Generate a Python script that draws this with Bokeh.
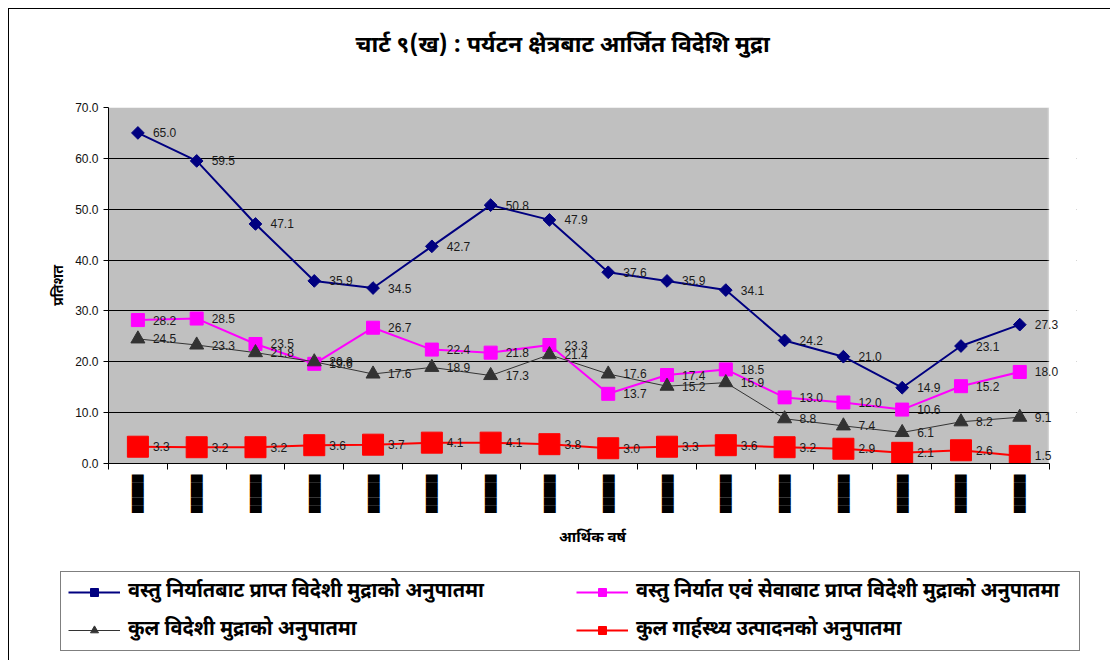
import math
from bokeh.plotting import figure
from bokeh.layouts import column, row
from bokeh.models import (ColumnDataSource, Range1d, FixedTicker, NumeralTickFormatter,
                          LabelSet, Legend, LegendItem, Title, BoxAnnotation)
from bokeh.core.properties import value
from bokeh.embed import file_html
from bokeh.resources import INLINE

# ---------------- data ----------------
years_idx = list(range(1, 17))
year_labels = ["█████"] * 16  # tick labels appear as solid black blocks in the reference
goods_export = [65.0, 59.5, 47.1, 35.9, 34.5, 42.7, 50.8, 47.9, 37.6, 35.9, 34.1, 24.2, 21.0, 14.9, 23.1, 27.3]
goods_services = [28.2, 28.5, 23.5, 19.6, 26.7, 22.4, 21.8, 23.3, 13.7, 17.4, 18.5, 13.0, 12.0, 10.6, 15.2, 18.0]
total_forex = [24.5, 23.3, 21.8, 20.0, 17.6, 18.9, 17.3, 21.4, 17.6, 15.2, 15.9, 8.8, 7.4, 6.1, 8.2, 9.1]
gdp_ratio = [3.3, 3.2, 3.2, 3.6, 3.7, 4.1, 4.1, 3.8, 3.0, 3.3, 3.6, 3.2, 2.9, 2.1, 2.6, 1.5]

series_names = [
    "वस्तु निर्यातबाट प्राप्त विदेशी मुद्राको अनुपातमा",
    "वस्तु निर्यात एवं सेवाबाट प्राप्त विदेशी मुद्राको अनुपातमा",
    "कुल विदेशी मुद्राको अनुपातमा",
    "कुल गार्हस्थ्य उत्पादनको अनुपातमा",
]
title_text = "चार्ट ९(ख) : पर्यटन क्षेत्रबाट आर्जित विदेशि मुद्रा"
y_title = "प्रतिशत"
x_title = "आर्थिक वर्ष"
y_ticks = [0, 10, 20, 30, 40, 50, 60, 70]

DEV = "Noto Sans Devanagari, Noto Sans, sans-serif"
NUM = "Liberation Sans"

# series styles
STY = [
    dict(color="#000080", lw=2, marker="square", angle=math.pi / 4, size=9),
    dict(color="#FF00FF", lw=2, marker="square", angle=0.0, size=13),
    dict(color="#333333", lw=1, marker="triangle", angle=0.0, size=14),
    dict(color="#FF0000", lw=2, marker="square", angle=0.0, size=21),
]

X0, X1 = 0.5, 16.5
X_VIEW_END = 16.965  # a little white room right of the plot area for the last data labels

p = figure(width=1101, height=551, output_backend="svg", toolbar_location=None,
           x_range=Range1d(X0, X_VIEW_END), y_range=Range1d(0, 70),
           min_border_left=99, min_border_top=98, min_border_right=34, min_border_bottom=97)
p.background_fill_color = "white"
p.border_fill_color = "white"
p.outline_line_color = None
# grey plot area (below the grid), white strip right of it (above the grid)
p.add_layout(BoxAnnotation(left=X0, right=X1, bottom=0, top=70, fill_color="#C0C0C0",
                           fill_alpha=1, line_color=None, level="image"))
p.add_layout(BoxAnnotation(left=X1, bottom=0, top=70, fill_color="white",
                           fill_alpha=1, line_color="white", line_width=3, level="underlay"))

# main title (outermost), spacer title stacked between it and the plot area
p.title = Title(text=title_text, align="left", text_font=DEV, text_font_size="23px",
                text_font_style="bold", text_color="black", standoff=0, offset=247)
p.add_layout(Title(text=" ", text_font_size="10px", standoff=34), "above")

# y axis
p.yaxis.ticker = FixedTicker(ticks=y_ticks)
p.yaxis.formatter = NumeralTickFormatter(format="0.0")
p.yaxis.major_label_text_font = NUM
p.yaxis.major_label_text_font_size = "12px"
p.yaxis.major_label_text_color = "#111111"
p.yaxis.major_tick_out = 5
p.yaxis.major_tick_in = 0
p.yaxis.minor_tick_line_color = None
p.yaxis.axis_line_color = "black"
p.yaxis.major_tick_line_color = "black"
p.yaxis.axis_label = y_title
p.yaxis.axis_label_text_font = DEV
p.yaxis.axis_label_text_font_size = "14px"
p.yaxis.axis_label_text_font_style = "bold"
p.yaxis.axis_label_text_color = "black"
p.yaxis.axis_label_standoff = 3

# x axis: major ticks (labels) at categories, minor ticks at category boundaries
p.xaxis.ticker = FixedTicker(ticks=years_idx, minor_ticks=[i + 0.5 for i in range(0, 17)])
p.xaxis.bounds = (X0, X1)
p.xaxis.major_label_overrides = {i: s for i, s in zip(years_idx, year_labels)}
p.xaxis.major_label_orientation = math.pi / 2
p.xaxis.major_label_text_font = "DejaVu Sans"
p.xaxis.major_label_text_font_size = "10px"
p.xaxis.major_label_text_color = "black"
p.xaxis.major_label_standoff = 5
p.xaxis.major_tick_out = 0
p.xaxis.major_tick_in = 0
p.xaxis.minor_tick_out = 6
p.xaxis.minor_tick_in = 0
p.xaxis.minor_tick_line_color = "black"
p.xaxis.axis_line_color = "black"
p.xaxis.axis_label = x_title
p.xaxis.axis_label_text_font = DEV
p.xaxis.axis_label_text_font_size = "15px"
p.xaxis.axis_label_text_font_style = "bold"
p.xaxis.axis_label_text_color = "black"
p.xaxis.axis_label_standoff = 13

p.xgrid.grid_line_color = None
p.ygrid.ticker = FixedTicker(ticks=[10, 20, 30, 40, 50, 60])
p.ygrid.grid_line_color = "black"
p.ygrid.grid_line_width = 1

src = ColumnDataSource(dict(
    x=years_idx,
    a=goods_export, b=goods_services, c=total_forex, d=gdp_ratio,
    la=["%.1f" % v for v in goods_export],
    lb=["%.1f" % v for v in goods_services],
    lc=["%.1f" % v for v in total_forex],
    ld=["%.1f" % v for v in gdp_ratio],
))

for col, st in zip(["a", "b", "c", "d"], STY):
    p.line("x", col, source=src, line_color=st["color"], line_width=st["lw"])
    p.scatter("x", col, source=src, marker=st["marker"], angle=st["angle"], size=st["size"],
              fill_color=st["color"], line_color=st["color"])

for col, lab in [("a", "la"), ("b", "lb"), ("c", "lc"), ("d", "ld")]:
    p.add_layout(LabelSet(x="x", y=col, text=lab, source=src, x_offset=15,
                          text_font=value(NUM), text_font_size="12px", text_color="#1a1a1a",
                          text_align="left", text_baseline="middle"))

# ---------------- legend panel ----------------
q = figure(width=1101, height=100, output_backend="svg", toolbar_location=None,
           x_range=Range1d(0, 1), y_range=Range1d(0, 1),
           x_axis_location=None, y_axis_location=None,
           min_border_left=0, min_border_right=0, min_border_top=0, min_border_bottom=0)
q.outline_line_color = None
q.grid.grid_line_color = None
q.background_fill_color = "white"
q.border_fill_color = "white"

items = []
for name, st in zip(series_names, STY):
    lr = q.line([-10, -9], [-10, -9], line_color=st["color"], line_width=st["lw"])
    mr = q.scatter([-10], [-10], marker=st["marker"], angle=st["angle"], size=st["size"],
                   fill_color=st["color"], line_color=st["color"])
    items.append(LegendItem(label=name, renderers=[lr, mr]))

# legend fills column-wise: order so that rows read 1,2 / 3,4
legend = Legend(items=[items[0], items[2], items[1], items[3]], ncols=2, location=(51, 9))
legend.label_text_font = DEV
legend.label_text_font_size = "20px"
legend.label_text_font_style = "bold"
legend.label_text_color = "black"
legend.glyph_width = 52
legend.glyph_height = 20
legend.label_standoff = 8
legend.label_width = 436
legend.spacing = 12
legend.padding = 7
legend.margin = 0
legend.border_line_color = "black"
legend.border_line_width = 1
legend.background_fill_color = "white"
legend.background_fill_alpha = 1
q.add_layout(legend, "center")

lay = column(p, row(q), spacing=0)
lay.styles = {"border-left": "1px solid black", "border-top": "1px solid black",
              "margin-left": "8px", "margin-top": "8px"}

open("out.html", "w").write(file_html(lay, INLINE))
